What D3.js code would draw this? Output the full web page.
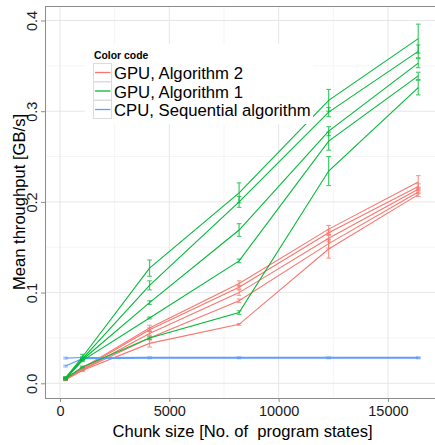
<!DOCTYPE html>
<html>
<head>
<meta charset="utf-8">
<script src="https://cdn.jsdelivr.net/npm/d3@7"></script>
<style>
    body { margin: 0; background: #fff; }
    svg { display: block; font-family: "Liberation Sans", Arial, sans-serif; }
</style>
</head>
<body>
<script>
// chunk sizes (x) shared by every series
var chunkSizes = [256, 1024, 4096, 8192, 12288, 16384];

// GPU, Algorithm 2 (red) - one row per run
var alg2Means = [
    [0.006, 0.017, 0.061, 0.110, 0.170, 0.222],
    [0.005, 0.016, 0.059, 0.106, 0.166, 0.217],
    [0.005, 0.015, 0.055, 0.100, 0.160, 0.214],
    [0.004, 0.015, 0.050, 0.091, 0.154, 0.211],
    [0.004, 0.014, 0.044, 0.065, 0.148, 0.208]
];
var alg2Errors = [
    [0.001, 0.001, 0.003, 0.003, 0.004, 0.007],
    [0.001, 0.001, 0.002, 0.002, 0.003, 0.003],
    [0.001, 0.001, 0.002, 0.003, 0.004, 0.002],
    [0.001, 0.001, 0.002, 0.002, 0.005, 0.002],
    [0.001, 0.001, 0.004, 0.001, 0.010, 0.002]
];

// GPU, Algorithm 1 (green)
var alg1Means = [
    [0.006, 0.029, 0.127, 0.210, 0.312, 0.380],
    [0.006, 0.027, 0.108, 0.200, 0.299, 0.366],
    [0.005, 0.026, 0.089, 0.169, 0.278, 0.353],
    [0.005, 0.025, 0.072, 0.135, 0.267, 0.339],
    [0.005, 0.018, 0.050, 0.078, 0.234, 0.326]
];
var alg1Errors = [
    [0.001, 0.003, 0.009, 0.011, 0.012, 0.016],
    [0.001, 0.001, 0.005, 0.006, 0.005, 0.007],
    [0.001, 0.001, 0.002, 0.007, 0.005, 0.005],
    [0.001, 0.001, 0.001, 0.002, 0.010, 0.004],
    [0.001, 0.001, 0.001, 0.002, 0.016, 0.008]
];

// CPU, Sequential algorithm (blue)
var cpuMeans = [
    [0.0278, 0.0284, 0.0286, 0.0286, 0.0286, 0.0286],
    [0.0190, 0.0272, 0.0276, 0.0276, 0.0276, 0.0276]
];
var cpuErrors = [
    [0.001, 0.001, 0.0005, 0.0005, 0.0005, 0.0005],
    [0.001, 0.001, 0.0005, 0.0005, 0.0005, 0.0005]
];

var seriesNames = ["GPU, Algorithm 2", "GPU, Algorithm 1", "CPU, Sequential algorithm"];
var seriesColors = ["#F8766D", "#00BA38", "#619CFF"];

var xTicks = [0, 5000, 10000, 15000];
var xMinor = [2500, 7500, 12500, 17500];
var yTicks = [0, 0.1, 0.2, 0.3, 0.4];
var yMinor = [0.05, 0.15, 0.25, 0.35];

var width = 435,
    height = 445,
    margin = {top: 6, right: -1, bottom: 47, left: 45};

var svg = d3.select('body')
    .append('svg')
    .attr('width', width)
    .attr('height', height);

var x = d3.scaleLinear()
    .domain([-685, 17197])
    .range([margin.left, width - margin.right]);

var y = d3.scaleLinear()
    .domain([-0.0162, 0.416])
    .range([height - margin.bottom, margin.top]);

var plotTop = margin.top,
    plotBottom = height - margin.bottom,
    plotLeft = margin.left,
    plotRight = width - margin.right;

// grid
svg.selectAll('line.minor-y').data(yMinor).enter().append('line')
    .attr('x1', plotLeft).attr('x2', plotRight)
    .attr('y1', function (d) { return y(d); })
    .attr('y2', function (d) { return y(d); })
    .attr('stroke', '#f5f5f5').attr('stroke-width', 1);
svg.selectAll('line.minor-x').data(xMinor).enter().append('line')
    .attr('y1', plotTop).attr('y2', plotBottom)
    .attr('x1', function (d) { return x(d); })
    .attr('x2', function (d) { return x(d); })
    .attr('stroke', '#f5f5f5').attr('stroke-width', 1);
svg.selectAll('line.major-y').data(yTicks).enter().append('line')
    .attr('x1', plotLeft).attr('x2', plotRight)
    .attr('y1', function (d) { return y(d); })
    .attr('y2', function (d) { return y(d); })
    .attr('stroke', '#e6e6e6').attr('stroke-width', 1);
svg.selectAll('line.major-x').data(xTicks).enter().append('line')
    .attr('y1', plotTop).attr('y2', plotBottom)
    .attr('x1', function (d) { return x(d); })
    .attr('x2', function (d) { return x(d); })
    .attr('stroke', '#e6e6e6').attr('stroke-width', 1);

var line = d3.line()
    .x(function (d) { return x(d.x); })
    .y(function (d) { return y(d.y); });

/**
 * draws one group of runs with error bars
 */
function drawGroup(means, errors, color) {
    for (var i = 0; i < means.length; ++i) {
        var pts = [];
        for (var j = 0; j < chunkSizes.length; ++j) {
            pts.push({x: chunkSizes[j], y: means[i][j], e: errors[i][j]});
        }
        svg.append('path')
            .datum(pts)
            .attr('d', line)
            .attr('fill', 'none')
            .attr('stroke', color)
            .attr('stroke-width', 1.1);

        var g = svg.append('g').attr('stroke', color).attr('opacity', 0.75);
        g.selectAll('line.bar').data(pts).enter().append('line')
            .attr('x1', function (d) { return x(d.x); })
            .attr('x2', function (d) { return x(d.x); })
            .attr('y1', function (d) { return y(d.y - d.e); })
            .attr('y2', function (d) { return y(d.y + d.e); })
            .attr('stroke-width', 1.2);
        g.selectAll('line.top').data(pts).enter().append('line')
            .attr('x1', function (d) { return x(d.x) - 2.3; })
            .attr('x2', function (d) { return x(d.x) + 2.3; })
            .attr('y1', function (d) { return y(d.y + d.e); })
            .attr('y2', function (d) { return y(d.y + d.e); })
            .attr('stroke-width', 1.1);
        g.selectAll('line.bot').data(pts).enter().append('line')
            .attr('x1', function (d) { return x(d.x) - 2.3; })
            .attr('x2', function (d) { return x(d.x) + 2.3; })
            .attr('y1', function (d) { return y(d.y - d.e); })
            .attr('y2', function (d) { return y(d.y - d.e); })
            .attr('stroke-width', 1.1);
    }
}

drawGroup(alg2Means, alg2Errors, seriesColors[0]);
drawGroup(cpuMeans, cpuErrors, seriesColors[2]);
drawGroup(alg1Means, alg1Errors, seriesColors[1]);

// panel border
svg.append('rect')
    .attr('x', plotLeft + 0.5).attr('y', plotTop + 0.5)
    .attr('width', plotRight - plotLeft).attr('height', plotBottom - plotTop)
    .attr('fill', 'none').attr('stroke', '#8c8c8c').attr('stroke-width', 1);

// axes
var yAxis = d3.axisLeft(y).tickValues(yTicks).tickSize(4).tickFormat(d3.format('.1f'));
var gy = svg.append('g').attr('transform', 'translate(' + plotLeft + ',0)').call(yAxis);
gy.select('.domain').remove();
gy.selectAll('.tick line').attr('stroke', '#8c8c8c');
gy.selectAll('.tick text')
    .attr('x', 0).attr('y', 0).attr('dy', 0)
    .attr('transform', 'translate(-8,0) rotate(-90)')
    .attr('text-anchor', 'middle')
    .style('font-size', '14.5px')
    .style('fill', '#1a1a1a');

var xAxis = d3.axisBottom(x).tickValues(xTicks).tickSize(4).tickFormat(d3.format('d'));
var gx = svg.append('g').attr('transform', 'translate(0,' + plotBottom + ')').call(xAxis);
gx.select('.domain').remove();
gx.selectAll('.tick line').attr('stroke', '#8c8c8c');
gx.selectAll('.tick text')
    .attr('y', 8).attr('dy', '0.71em')
    .style('font-size', '14.5px')
    .style('fill', '#1a1a1a');

// axis titles
svg.append('text')
    .attr('x', (plotLeft + 436) / 2 + 2)
    .attr('y', 437)
    .attr('text-anchor', 'middle')
    .style('font-size', '16.6px')
    .style('white-space', 'pre')
    .attr('xml:space', 'preserve')
    .text('Chunk size [No. of  program states]');

svg.append('text')
    .attr('transform', 'translate(25,' + ((plotTop + plotBottom) / 2) + ') rotate(-90)')
    .attr('text-anchor', 'middle')
    .style('font-size', '16.6px')
    .text('Mean throughput [GB/s]');

// legend
var legend = svg.append('g').attr('transform', 'translate(93,0)');
legend.append('rect')
    .attr('x', -8).attr('y', 44).attr('width', 228).attr('height', 80)
    .attr('fill', '#fff');
legend.append('text')
    .attr('x', 1).attr('y', 59.3)
    .style('font-size', '10.4px')
    .style('font-weight', 'bold')
    .text('Color code');
for (var k = 0; k < seriesNames.length; ++k) {
    var ky = 63 + k * 18.5;
    legend.append('rect')
        .attr('x', 0.5).attr('y', ky + 0.5)
        .attr('width', 18).attr('height', 18)
        .attr('fill', '#fff')
        .attr('stroke', '#dcdcdc');
    legend.append('line')
        .attr('x1', 2).attr('x2', 17.5)
        .attr('y1', ky + 9.5).attr('y2', ky + 9.5)
        .attr('stroke', seriesColors[k])
        .attr('stroke-width', 1.3);
    legend.append('text')
        .attr('x', 21).attr('y', ky + 16)
        .style('font-size', '16.7px')
        .text(seriesNames[k]);
}
</script>
</body>
</html>
